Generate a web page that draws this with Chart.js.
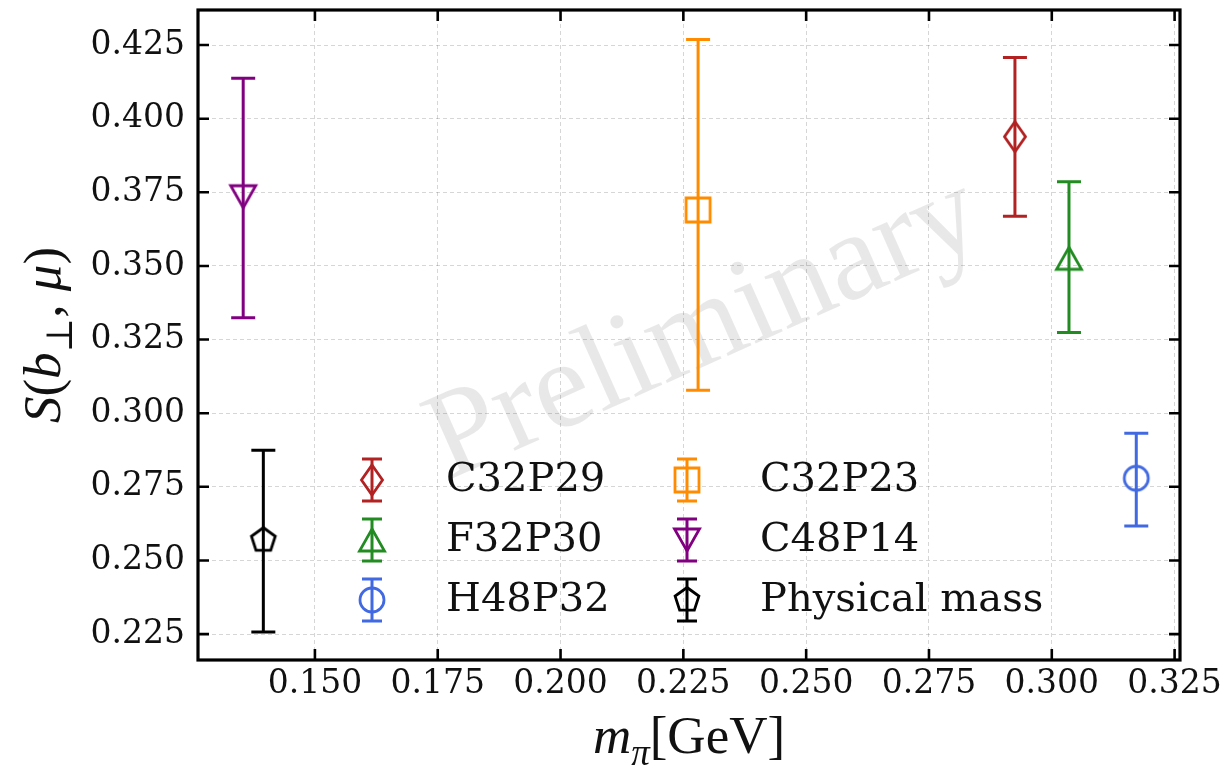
<!DOCTYPE html>
<html>
<head>
<meta charset="utf-8">
<title>S(b, mu) vs m_pi</title>
<script src="https://cdn.jsdelivr.net/npm/chart.js@4.4.1/dist/chart.umd.min.js"></script>
<style>
  html, body { margin: 0; padding: 0; background: #fff; }
  #wrap { width: 1230px; height: 768px; }
</style>
</head>
<body>
<div id="wrap"><canvas id="chart" width="1230" height="768"></canvas></div>
<script>
// ---------- DATA ----------
// legend is filled column by column, so the order here follows it
const ensembles = ["C32P29", "F32P30", "H48P32", "C32P23", "C48P14", "Physical mass"];
const mPi     = [0.2925, 0.3035, 0.3172, 0.2280, 0.1354, 0.1395];
const sVal    = [0.3939, 0.3526, 0.2779, 0.3690, 0.3735, 0.2569];
const sUpper  = [0.4208, 0.3786, 0.2932, 0.4269, 0.4137, 0.2874];
const sLower  = [0.3669, 0.3274, 0.2617, 0.3078, 0.3324, 0.2257];
const colors  = ["#b22222", "#228b22", "#4169e1", "#ff8c00", "#800080", "#000000"];
const shapes  = ["thinDiamond", "triUp", "circle", "square", "triDown", "pentagon"];

const xTicks = [0.150, 0.175, 0.200, 0.225, 0.250, 0.275, 0.300, 0.325];
const yTicks = [0.225, 0.250, 0.275, 0.300, 0.325, 0.350, 0.375, 0.400, 0.425];
const xRange = [0.1262, 0.3261];
const yRange = [0.2162, 0.4369];

const TICK_FONT = "'DejaVu Serif', serif";
const MATH_FONT = "'Liberation Serif', 'DejaVu Serif', serif";

// ---------- MARKERS ----------
function makeMarker(shape, color) {
  const c = document.createElement("canvas");
  c.width = 36; c.height = 36;
  const g = c.getContext("2d");
  g.translate(18, 18);
  g.strokeStyle = color;
  g.lineWidth = 2.8;
  g.lineJoin = "miter";
  g.beginPath();
  if (shape === "thinDiamond") {
    g.moveTo(0, -15); g.lineTo(10.5, 0); g.lineTo(0, 15); g.lineTo(-10.5, 0);
  } else if (shape === "triUp") {
    g.moveTo(0, -11); g.lineTo(12.5, 11); g.lineTo(-12.5, 11);
  } else if (shape === "triDown") {
    g.moveTo(0, 11); g.lineTo(12.5, -11); g.lineTo(-12.5, -11);
  } else if (shape === "circle") {
    g.arc(0, 0, 12, 0, Math.PI * 2);
  } else if (shape === "square") {
    g.rect(-12, -12, 24, 24);
  } else if (shape === "pentagon") {
    for (let k = 0; k < 5; k++) {
      const a = -Math.PI / 2 + k * 2 * Math.PI / 5;
      const px = 12.5 * Math.cos(a), py = 12.5 * Math.sin(a);
      if (k === 0) g.moveTo(px, py); else g.lineTo(px, py);
    }
  }
  g.closePath();
  g.stroke();
  return c;
}
const markerImgs = shapes.map((s, i) => makeMarker(s, colors[i]));

// ---------- PLUGINS ----------
const watermark = {
  id: "watermark",
  beforeDatasetsDraw(chart) {
    const { ctx, chartArea: a } = chart;
    ctx.save();
    ctx.beginPath();
    ctx.rect(a.left, a.top, a.right - a.left, a.bottom - a.top);
    ctx.clip();
    ctx.translate(705, 330);
    ctx.rotate(-24 * Math.PI / 180);
    ctx.font = "125px " + MATH_FONT;
    ctx.fillStyle = "rgba(0,0,0,0.09)";
    ctx.textAlign = "center";
    ctx.textBaseline = "middle";
    ctx.fillText("Preliminary", 0, 0);
    ctx.restore();
  }
};

function drawErrBar(ctx, x, yTop, yBot, color, cap) {
  ctx.strokeStyle = color;
  ctx.lineWidth = 3;
  ctx.beginPath();
  ctx.moveTo(x, yTop); ctx.lineTo(x, yBot);
  ctx.moveTo(x - cap, yTop); ctx.lineTo(x + cap, yTop);
  ctx.moveTo(x - cap, yBot); ctx.lineTo(x + cap, yBot);
  ctx.stroke();
}

const errorBars = {
  id: "errorBars",
  beforeDatasetsDraw(chart) {
    const { ctx, scales: { x, y } } = chart;
    ctx.save();
    chart.data.datasets.forEach((ds, i) => {
      const px = x.getPixelForValue(mPi[i]);
      drawErrBar(ctx, px, y.getPixelForValue(sUpper[i]), y.getPixelForValue(sLower[i]), colors[i], 12);
    });
    ctx.restore();
  }
};

const frameAndTicks = {
  id: "frameAndTicks",
  afterDraw(chart) {
    const { ctx, chartArea: a, scales: { x, y } } = chart;
    const len = 11;
    ctx.save();
    ctx.strokeStyle = "#000";
    ctx.lineWidth = 2.6;
    ctx.beginPath();
    x.ticks.forEach(t => {
      const px = x.getPixelForValue(t.value);
      ctx.moveTo(px, a.bottom); ctx.lineTo(px, a.bottom - len);
      ctx.moveTo(px, a.top); ctx.lineTo(px, a.top + len);
    });
    y.ticks.forEach(t => {
      const py = y.getPixelForValue(t.value);
      ctx.moveTo(a.left, py); ctx.lineTo(a.left + len, py);
      ctx.moveTo(a.right, py); ctx.lineTo(a.right - len, py);
    });
    ctx.stroke();
    ctx.lineWidth = 3.2;
    ctx.strokeRect(a.left, a.top, a.right - a.left, a.bottom - a.top);
    ctx.restore();
  }
};

const legendBox = {
  id: "legendBox",
  afterDatasetsDraw(chart) {
    const { ctx } = chart;
    const markX = [372, 687], textX = [446, 760], rowY = [480, 540, 600];
    ctx.save();
    chart.data.datasets.forEach((ds, i) => {
      const col = Math.floor(i / 3), row = i % 3;
      const cx = markX[col], cy = rowY[row];
      drawErrBar(ctx, cx, cy - 21, cy + 21, colors[i], 10);
      const img = markerImgs[i];
      ctx.drawImage(img, cx - img.width / 2, cy - img.height / 2);
      ctx.fillStyle = "#111";
      ctx.font = "40px " + TICK_FONT;
      ctx.textAlign = "left";
      ctx.textBaseline = "middle";
      ctx.fillText(ds.label, textX[col], cy + 1);
    });
    ctx.restore();
  }
};

// draw runs of text with italic / subscript parts
function drawRuns(ctx, runs, size) {
  const fontOf = r => (r.it ? "italic " : "") + Math.round(r.sub ? size * 0.7 : size) + "px " + MATH_FONT;
  let w = 0;
  runs.forEach(r => { ctx.font = fontOf(r); r.w = ctx.measureText(r.t).width; w += r.w; });
  let cx = -w / 2;
  runs.forEach(r => {
    ctx.font = fontOf(r);
    ctx.fillText(r.t, cx, r.sub ? size * 0.22 : 0);
    cx += r.w;
  });
}

const axisTitles = {
  id: "axisTitles",
  afterDraw(chart) {
    const { ctx, chartArea: a } = chart;
    ctx.save();
    ctx.fillStyle = "#111";
    ctx.textAlign = "left";
    ctx.textBaseline = "alphabetic";
    ctx.translate((a.left + a.right) / 2, 753);
    drawRuns(ctx, [{ t: "m", it: true }, { t: "π", it: true, sub: true }, { t: "[GeV]" }], 53);
    ctx.restore();

    ctx.save();
    ctx.fillStyle = "#111";
    ctx.textAlign = "left";
    ctx.textBaseline = "alphabetic";
    ctx.translate(60, (a.top + a.bottom) / 2);
    ctx.rotate(-Math.PI / 2);
    drawRuns(ctx, [{ t: "S", it: true }, { t: "(" }, { t: "b", it: true }, { t: "⊥", sub: true }, { t: ", " }, { t: "μ", it: true }, { t: ")" }], 53);
    ctx.restore();
  }
};

// ---------- CHART ----------
const datasets = ensembles.map((name, i) => ({
  label: name,
  data: [{ x: mPi[i], y: sVal[i] }],
  pointStyle: markerImgs[i],
  borderColor: colors[i],
  backgroundColor: "transparent",
  showLine: false
}));

const gridOpts = { color: "rgba(0,0,0,0.16)", lineWidth: 1, drawTicks: false };

new Chart(document.getElementById("chart"), {
  type: "scatter",
  data: { datasets },
  options: {
    responsive: false,
    animation: false,
    devicePixelRatio: 1,
    events: [],
    layout: { padding: { top: 10, right: 50, left: 0, bottom: 0 } },
    plugins: { legend: { display: false }, tooltip: { enabled: false } },
    scales: {
      x: {
        type: "linear",
        min: xRange[0], max: xRange[1],
        afterBuildTicks: s => { s.ticks = xTicks.map(v => ({ value: v })); },
        afterFit: s => { s.height = 108; s.paddingLeft = 0; s.paddingRight = 0; },
        grid: gridOpts,
        border: { display: false, dash: [4, 3] },
        ticks: {
          padding: 5,
          color: "#111",
          font: { family: TICK_FONT, size: 33 },
          callback: v => v.toFixed(3)
        }
      },
      y: {
        type: "linear",
        min: yRange[0], max: yRange[1],
        afterBuildTicks: s => { s.ticks = yTicks.map(v => ({ value: v })); },
        afterFit: s => { s.width = 198; s.paddingTop = 0; s.paddingBottom = 0; },
        grid: gridOpts,
        border: { display: false, dash: [4, 3] },
        ticks: {
          padding: 13,
          color: "#111",
          font: { family: TICK_FONT, size: 33 },
          callback: v => v.toFixed(3)
        }
      }
    }
  },
  plugins: [watermark, errorBars, legendBox, frameAndTicks, axisTitles]
});
</script>
</body>
</html>
